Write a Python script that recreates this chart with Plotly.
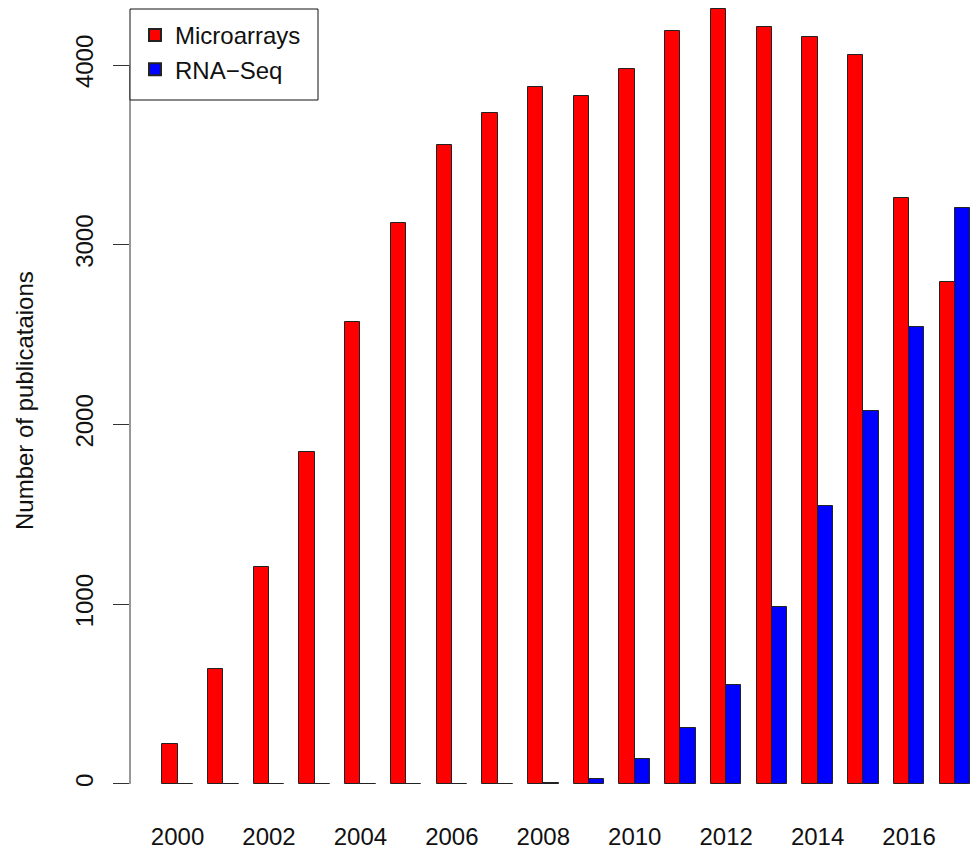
import plotly.graph_objects as go

# Publications per year, microarray vs RNA-Seq
years = list(range(2000, 2018))
microarrays = [222, 640, 1207, 1847, 2570, 3121, 3555, 3733, 3878, 3828,
               3978, 4189, 4312, 4211, 4156, 4056, 3260, 2793]
rnaseq = [0, 0, 0, 0, 0, 0, 0, 0, 3, 28,
          139, 313, 549, 985, 1547, 2075, 2542, 3203]
y_ticks = [0, 1000, 2000, 3000, 4000]

FONT = "Liberation Sans, Arial, sans-serif"
AXIS_COL = "#333333"

# grouped layout: each bar is one unit wide, one unit gap before each group
red_x = [1.5 + 3 * i for i in range(len(years))]
blue_x = [2.5 + 3 * i for i in range(len(years))]
label_x = [2 + 3 * i for i in range(len(years))]

fig = go.Figure()
fig.add_trace(go.Bar(
    x=red_x, y=microarrays, width=1, name="Microarrays",
    marker=dict(color="#FF0000", line=dict(color="#222222", width=1)),
))
fig.add_trace(go.Bar(
    x=blue_x, y=rnaseq, width=1, name="RNA\u2212Seq",
    marker=dict(color="#0000FF", line=dict(color="#222222", width=1)),
))

# y axis line spanning only the tick range
fig.add_shape(type="line", xref="paper", yref="y", x0=0, x1=0,
              y0=y_ticks[0], y1=y_ticks[-1],
              line=dict(color=AXIS_COL, width=1))

# legend frame
W, H = 970, 849
ML, MB = 130, 34
pw, ph = W - ML, H - MB
def px_x(p):
    return (p - ML) / pw
def px_y(p):
    return 1 - p / ph

fig.add_shape(type="rect", xref="paper", yref="paper",
              x0=px_x(130), x1=px_x(318), y0=px_y(100), y1=px_y(9),
              line=dict(color="#111111", width=1), fillcolor="white", layer="above")

fig.add_annotation(text="Number of publicataions", textangle=-90,
                   xref="paper", yref="paper", x=px_x(24), y=px_y(401),
                   xanchor="center", yanchor="middle",
                   showarrow=False, font=dict(family=FONT, size=24, color="#111111"))

fig.update_layout(
    width=W, height=H,
    margin=dict(l=ML, r=0, t=0, b=MB, autoexpand=False),
    plot_bgcolor="white", paper_bgcolor="white",
    barmode="overlay", bargap=0,
    font=dict(family=FONT, size=24, color="#111111"),
    showlegend=True,
    legend=dict(x=px_x(135), y=px_y(13), xanchor="left", yanchor="top",
                bgcolor="rgba(0,0,0,0)", borderwidth=0,
                font=dict(family=FONT, size=24, color="#111111"),
                itemsizing="constant"),
    xaxis=dict(range=[-1.12, 54], showgrid=False, zeroline=False, showline=False,
               tickmode="array", tickvals=label_x[::2],
               ticktext=[str(y) for y in years[::2]],
               ticks="", ticklabelstandoff=5, automargin=False),
    yaxis=dict(range=[-172.5, 4361.6], showgrid=False, zeroline=False, showline=False,
               tickmode="array", tickvals=y_ticks, ticktext=[str(v) for v in y_ticks],
               ticks="outside", ticklen=16, tickcolor=AXIS_COL, tickwidth=1,
               tickangle=-90, ticklabelstandoff=10, automargin=False),
)

fig.write_html("out.html")
